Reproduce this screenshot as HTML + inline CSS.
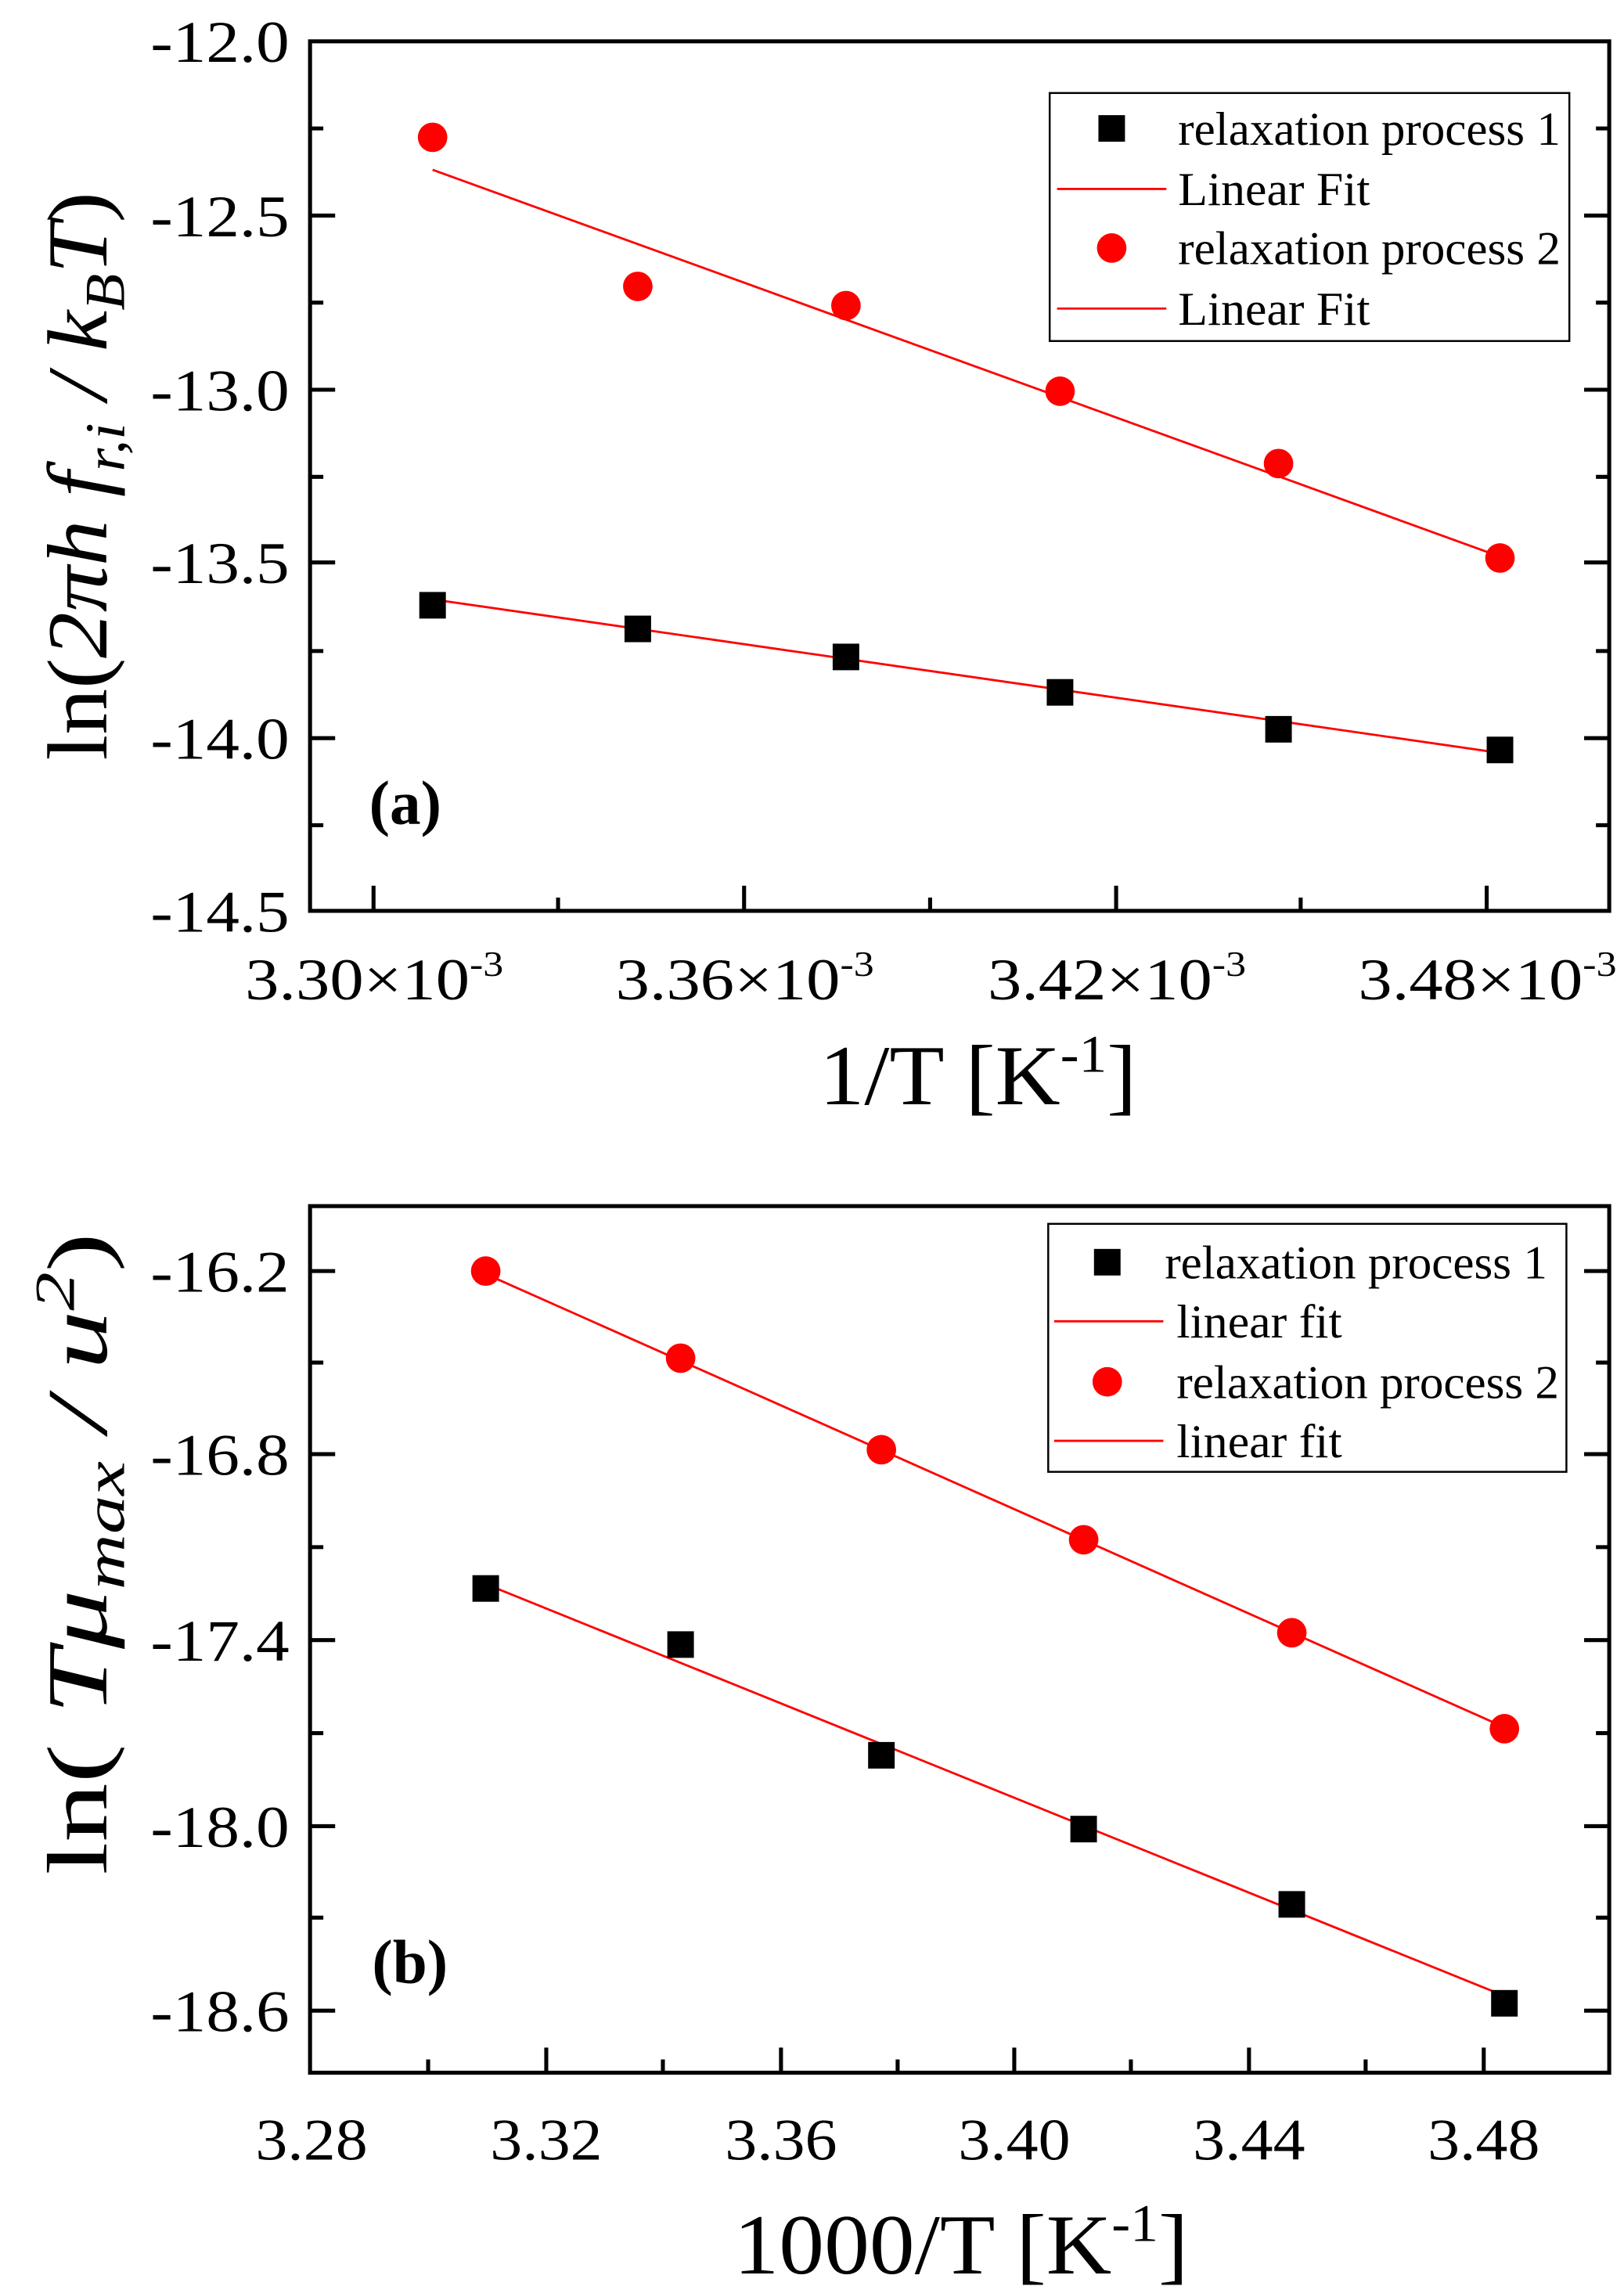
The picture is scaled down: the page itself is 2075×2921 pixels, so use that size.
<!DOCTYPE html>
<html><head><meta charset="utf-8"><style>
html,body{margin:0;padding:0;background:#fff;}
svg{display:block;}
text{font-family:"Liberation Serif",serif;fill:#000;}
</style></head><body>
<svg width="2075" height="2921" viewBox="0 0 1100 1548.5" xmlns="http://www.w3.org/2000/svg">
<!-- Panel a -->
<g stroke="#000" stroke-width="2.7" fill="none">
<rect x="210" y="28" width="880" height="589"/>
<path d="M210 146h17M210 264h17M210 381h17M210 500h17M210 87h9M210 205h9M210 323h9M210 441h9M210 559h9"/>
<path d="M1090 146h-17M1090 264h-17M1090 381h-17M1090 500h-17M1090 87h-9M1090 205h-9M1090 323h-9M1090 441h-9M1090 559h-9"/>
<path d="M253 617v-17M504 617v-17M756 617v-17M1007 617v-17M378 617v-9M630 617v-9M881 617v-9"/>
</g>
<g font-size="40" text-anchor="end">
<text x="196" y="42" textLength="94" lengthAdjust="spacingAndGlyphs">-12.0</text>
<text x="196" y="160" textLength="94" lengthAdjust="spacingAndGlyphs">-12.5</text>
<text x="196" y="278" textLength="94" lengthAdjust="spacingAndGlyphs">-13.0</text>
<text x="196" y="395" textLength="94" lengthAdjust="spacingAndGlyphs">-13.5</text>
<text x="196" y="514" textLength="94" lengthAdjust="spacingAndGlyphs">-14.0</text>
<text x="196" y="631" textLength="94" lengthAdjust="spacingAndGlyphs">-14.5</text>
</g>
<g font-size="40">
<text x="166" y="677" textLength="175" lengthAdjust="spacingAndGlyphs">3.30×10<tspan font-size="24" dy="-16">-3</tspan></text>
<text x="417" y="677" textLength="175" lengthAdjust="spacingAndGlyphs">3.36×10<tspan font-size="24" dy="-16">-3</tspan></text>
<text x="669" y="677" textLength="175" lengthAdjust="spacingAndGlyphs">3.42×10<tspan font-size="24" dy="-16">-3</tspan></text>
<text x="920" y="677" textLength="175" lengthAdjust="spacingAndGlyphs">3.48×10<tspan font-size="24" dy="-16">-3</tspan></text>
</g>
<text x="555" y="748" font-size="58" textLength="215" lengthAdjust="spacingAndGlyphs">1/T [K<tspan font-size="36" dy="-22">-1</tspan><tspan dy="22">]</tspan></text>
<text transform="translate(72,515) rotate(-90)" font-size="58" textLength="385" lengthAdjust="spacingAndGlyphs">ln(<tspan font-style="italic">2πh f<tspan font-size="38" dy="12">r,i</tspan><tspan dy="-12"> / k</tspan><tspan font-size="38" dy="12">B</tspan><tspan dy="-12">T</tspan></tspan>)</text>
<text x="250" y="558" font-size="42" font-weight="bold">(a)</text>
<g stroke="red" stroke-width="1.5">
<line x1="293" y1="115" x2="1016" y2="377"/>
<line x1="293" y1="406" x2="1016" y2="510"/>
</g>
<g fill="red">
<circle cx="293" cy="93" r="10"/><circle cx="432" cy="194" r="10"/><circle cx="573" cy="207" r="10"/><circle cx="718" cy="265" r="10"/><circle cx="866" cy="314" r="10"/><circle cx="1016" cy="378" r="10"/>
</g>
<g fill="#000">
<rect x="284" y="401" width="18" height="18"/><rect x="423" y="417" width="18" height="18"/><rect x="564" y="436" width="18" height="18"/><rect x="709" y="460" width="18" height="18"/><rect x="857" y="485" width="18" height="18"/><rect x="1007" y="499" width="18" height="18"/>
</g>
<rect x="711" y="63" width="352" height="168" fill="#fff" stroke="#000" stroke-width="1.3"/>
<rect x="744" y="78" width="18" height="18"/>
<line x1="716" y1="128" x2="790" y2="128" stroke="red" stroke-width="1.5"/>
<circle cx="753" cy="168" r="10" fill="red"/>
<line x1="716" y1="209" x2="790" y2="209" stroke="red" stroke-width="1.5"/>
<g font-size="32">
<text x="798" y="98" textLength="259" lengthAdjust="spacingAndGlyphs">relaxation process 1</text>
<text x="798" y="139" textLength="130" lengthAdjust="spacingAndGlyphs">Linear Fit</text>
<text x="798" y="179" textLength="259" lengthAdjust="spacingAndGlyphs">relaxation process 2</text>
<text x="798" y="220" textLength="130" lengthAdjust="spacingAndGlyphs">Linear Fit</text>
</g>

<!-- Panel b -->
<g stroke="#000" stroke-width="2.7" fill="none">
<rect x="210" y="817" width="880" height="587"/>
<path d="M210 861h17M210 985h17M210 1111h17M210 1237h17M210 1362h17M210 923h9M210 1048h9M210 1174h9M210 1299h9"/>
<path d="M1090 861h-17M1090 985h-17M1090 1111h-17M1090 1237h-17M1090 1362h-17M1090 923h-9M1090 1048h-9M1090 1174h-9M1090 1299h-9"/>
<path d="M370 1404v-17M529 1404v-17M687 1404v-17M846 1404v-17M1005 1404v-17M290 1404v-9M449 1404v-9M608 1404v-9M766 1404v-9M925 1404v-9"/>
</g>
<g font-size="40" text-anchor="end">
<text x="196" y="875" textLength="94" lengthAdjust="spacingAndGlyphs">-16.2</text>
<text x="196" y="999" textLength="94" lengthAdjust="spacingAndGlyphs">-16.8</text>
<text x="196" y="1125" textLength="94" lengthAdjust="spacingAndGlyphs">-17.4</text>
<text x="196" y="1251" textLength="94" lengthAdjust="spacingAndGlyphs">-18.0</text>
<text x="196" y="1376" textLength="94" lengthAdjust="spacingAndGlyphs">-18.6</text>
</g>
<g font-size="40">
<text x="173" y="1463" textLength="76" lengthAdjust="spacingAndGlyphs">3.28</text>
<text x="332" y="1463" textLength="76" lengthAdjust="spacingAndGlyphs">3.32</text>
<text x="491" y="1463" textLength="76" lengthAdjust="spacingAndGlyphs">3.36</text>
<text x="649" y="1463" textLength="76" lengthAdjust="spacingAndGlyphs">3.40</text>
<text x="808" y="1463" textLength="76" lengthAdjust="spacingAndGlyphs">3.44</text>
<text x="967" y="1463" textLength="76" lengthAdjust="spacingAndGlyphs">3.48</text>
</g>
<text x="497" y="1540" font-size="58" textLength="308" lengthAdjust="spacingAndGlyphs">1000/T [K<tspan font-size="36" dy="-22">-1</tspan><tspan dy="22">]</tspan></text>
<text transform="translate(72,1270) rotate(-90)" font-size="58" textLength="435" lengthAdjust="spacingAndGlyphs">ln( <tspan font-style="italic">Tμ<tspan font-size="38" dy="12">max</tspan><tspan dy="-12"> / u</tspan><tspan font-size="38" dy="-22">2</tspan></tspan><tspan dy="22">)</tspan></text>
<text x="252" y="1343" font-size="42" font-weight="bold">(b)</text>
<g stroke="red" stroke-width="1.5">
<line x1="329" y1="863" x2="1019" y2="1170"/>
<line x1="329" y1="1073" x2="1019" y2="1352"/>
</g>
<g fill="red">
<circle cx="329" cy="861" r="10"/><circle cx="461" cy="920" r="10"/><circle cx="597" cy="982" r="10"/><circle cx="734" cy="1043" r="10"/><circle cx="875" cy="1106" r="10"/><circle cx="1019" cy="1171" r="10"/>
</g>
<g fill="#000">
<rect x="320" y="1067" width="18" height="18"/><rect x="452" y="1105" width="18" height="18"/><rect x="588" y="1180" width="18" height="18"/><rect x="725" y="1230" width="18" height="18"/><rect x="866" y="1281" width="18" height="18"/><rect x="1010" y="1348" width="18" height="18"/>
</g>
<rect x="710" y="829" width="351" height="168" fill="#fff" stroke="#000" stroke-width="1.3"/>
<rect x="741" y="846" width="18" height="18"/>
<line x1="714" y1="895" x2="788" y2="895" stroke="red" stroke-width="1.5"/>
<circle cx="750" cy="936" r="10" fill="red"/>
<line x1="714" y1="976" x2="788" y2="976" stroke="red" stroke-width="1.5"/>
<g font-size="32">
<text x="789" y="866" textLength="259" lengthAdjust="spacingAndGlyphs">relaxation process 1</text>
<text x="797" y="906" textLength="112" lengthAdjust="spacingAndGlyphs">linear fit</text>
<text x="797" y="947" textLength="259" lengthAdjust="spacingAndGlyphs">relaxation process 2</text>
<text x="797" y="987" textLength="112" lengthAdjust="spacingAndGlyphs">linear fit</text>
</g>
</svg>
</body></html>
